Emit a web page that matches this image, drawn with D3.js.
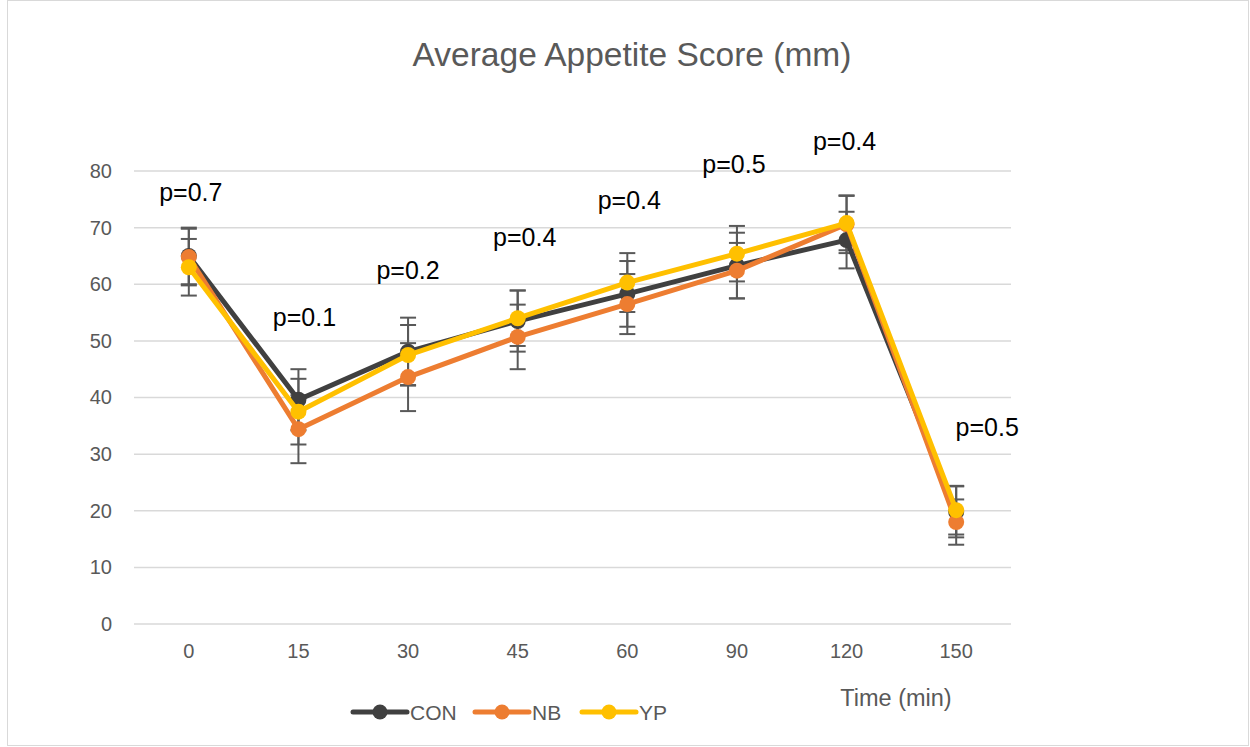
<!DOCTYPE html>
<html><head><meta charset="utf-8">
<script src="https://cdn.jsdelivr.net/npm/d3@7"></script>
<style>body{margin:0;background:#fff}svg{display:block}</style>
</head><body><svg id="c" width="1250" height="747"></svg>
<script>
const categories = ["0","15","30","45","60","90","120","150"];
const yTicks = [0,10,20,30,40,50,60,70,80];
const seriesNames = ["CON","NB","YP"];
const conValues = [65.0, 39.6, 48.1, 53.5, 58.3, 63.3, 67.8, 19.8];
const nbValues  = [64.8, 34.4, 43.6, 50.7, 56.5, 62.4, 70.6, 18.0];
const ypValues  = [63.0, 37.5, 47.5, 54.0, 60.3, 65.4, 70.8, 20.1];
const conErr = [5.0, 5.4, 6.0, 5.4, 5.8, 5.8, 5.0, 4.5];
const nbErr  = [5.0, 6.0, 6.0, 5.7, 5.3, 4.9, 5.1, 4.0];
const ypErr  = [5.0, 5.8, 5.3, 4.9, 5.2, 4.9, 4.8, 4.3];
const pLabels = ["p=0.7","p=0.1","p=0.2","p=0.4","p=0.4","p=0.5","p=0.4","p=0.5"];
const pLabelY = [74.7, 52.7, 60.9, 66.8, 73.3, 79.7, 83.7, 33.2];
const pLabelDx = [2, 6, 0, 7, 2, -3, -2, 31];

const colors = {CON:"#404040", NB:"#ED7D31", YP:"#FFC000"};
const series = [
  {name:"CON", values:conValues, err:conErr},
  {name:"NB", values:nbValues, err:nbErr},
  {name:"YP", values:ypValues, err:ypErr}
];

const svg = d3.select("#c");
const font = "'Liberation Sans', Arial, sans-serif";
svg.append("rect").attr("x",7.5).attr("y",0.5).attr("width",1241).attr("height",745)
  .attr("fill","#fff").attr("stroke","#d9d9d9");

const x = d3.scaleBand().domain(categories).range([134,1011]);
const y = d3.scaleLinear().domain([0,80]).range([624,171]);
const cx = c => x(c) + x.bandwidth()/2;

// gridlines
svg.append("g").selectAll("line").data(yTicks).join("line")
  .attr("x1",134).attr("x2",1011).attr("y1",d=>y(d)).attr("y2",d=>y(d))
  .attr("stroke","#d9d9d9").attr("stroke-width",1.5);

// y axis
const yAxis = svg.append("g").attr("transform","translate(134,0)")
  .call(d3.axisLeft(y).tickValues(yTicks).tickSize(0).tickPadding(22));
yAxis.select(".domain").remove();
yAxis.selectAll("text").attr("font-family",font).attr("font-size",20).attr("fill","#595959");

// x axis
const xAxis = svg.append("g").attr("transform","translate(0,624)")
  .call(d3.axisBottom(x).tickSize(0).tickPadding(20));
xAxis.select(".domain").remove();
xAxis.selectAll("text").attr("font-family",font).attr("font-size",20).attr("fill","#595959");

// title
svg.append("text").attr("x",632).attr("y",66).attr("text-anchor","middle")
  .attr("font-family",font).attr("font-size",33.5).attr("fill","#595959")
  .text("Average Appetite Score (mm)");

// error bars
const eb = svg.append("g").attr("stroke","#595959").attr("stroke-width",2);
series.forEach(s => {
  categories.forEach((c,i) => {
    const xx = cx(c), lo = y(s.values[i]-s.err[i]), hi = y(s.values[i]+s.err[i]);
    eb.append("line").attr("x1",xx).attr("x2",xx).attr("y1",lo).attr("y2",hi);
    eb.append("line").attr("x1",xx-8).attr("x2",xx+8).attr("y1",lo).attr("y2",lo);
    eb.append("line").attr("x1",xx-8).attr("x2",xx+8).attr("y1",hi).attr("y2",hi);
  });
});

// lines + markers
const line = d3.line().x((d,i)=>cx(categories[i])).y(d=>y(d));
series.forEach(s => {
  svg.append("path").datum(s.values).attr("d",line).attr("fill","none")
    .attr("stroke",colors[s.name]).attr("stroke-width",5).attr("stroke-linejoin","round");
  svg.append("g").selectAll("circle").data(s.values).join("circle")
    .attr("cx",(d,i)=>cx(categories[i])).attr("cy",d=>y(d)).attr("r",8)
    .attr("fill",colors[s.name]);
});

// p labels
svg.append("g").selectAll("text").data(pLabels).join("text")
  .attr("x",(d,i)=>cx(categories[i])+pLabelDx[i]).attr("y",(d,i)=>y(pLabelY[i]))
  .attr("text-anchor","middle").attr("font-family",font).attr("font-size",25).attr("fill","#000")
  .text(d=>d);

// axis title
svg.append("text").attr("x",896).attr("y",706).attr("text-anchor","middle")
  .attr("font-family",font).attr("font-size",23.5).attr("fill","#595959").text("Time (min)");

// legend
const legX = [353, 475, 582];
const lg = svg.append("g");
seriesNames.forEach((n,i) => {
  const g = lg.append("g").attr("transform",`translate(${legX[i]},712)`);
  g.append("line").attr("x1",0).attr("x2",54).attr("y1",0).attr("y2",0)
    .attr("stroke",colors[n]).attr("stroke-width",5).attr("stroke-linecap","round");
  g.append("circle").attr("cx",27).attr("cy",0).attr("r",7.5).attr("fill",colors[n]);
  g.append("text").attr("x",57).attr("y",8).attr("font-family",font).attr("font-size",21)
    .attr("fill","#595959").text(n);
});
</script></body></html>
